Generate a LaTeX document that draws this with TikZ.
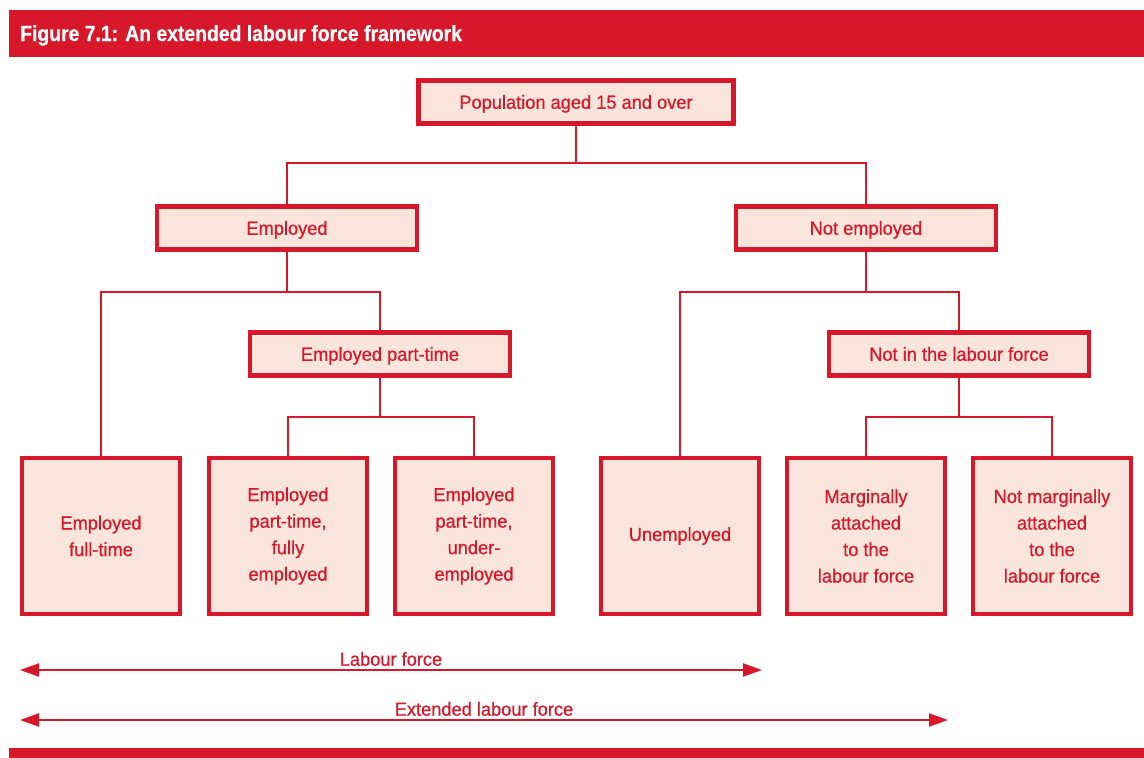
\documentclass[tikz,border=0pt]{standalone}
\usepackage{fontspec}
\setmainfont{Liberation Sans}[FakeStretch=0.96,FakeBold=0.6]
\newfontfamily\headfont{Liberation Sans}[FakeStretch=0.88,FakeBold=0.5]
\usepackage{tikz}
\usetikzlibrary{arrows.meta}

\definecolor{figred}{HTML}{D7182A}
\definecolor{boxfill}{HTML}{FAE5DD}

\tikzset{
  box/.style={draw=figred, line width=4.5pt, fill=boxfill, text=figred,
    align=center, inner sep=2pt, font=\fontsize{19}{26.5}\selectfont},
  widebox/.style={box, minimum width=260pt, minimum height=43pt,
    text height=13.6pt, text depth=0pt},
  leafbox/.style={box, minimum width=158pt, minimum height=156pt},
  link/.style={draw=figred, line width=2pt},
  span/.style={draw=figred, line width=2.2pt,
    {Triangle[length=19pt,width=13pt]}-{Triangle[length=19pt,width=13pt]}},
  spanlabel/.style={text=figred, font=\fontsize{19}{22}\selectfont, inner sep=3pt}
}

\begin{document}
\begin{tikzpicture}[x=1pt,y=1pt]
  \useasboundingbox (0,0) rectangle (1144,-758);

  % title bar and bottom rule
  \fill[figred] (9,-10) rectangle (1144,-57);
  \node[anchor=base west, text=white, inner sep=0pt,
    font=\headfont\bfseries\fontsize{22}{26}\selectfont] (title) at (20,-41)
    {Figure 7.1: An extended labour force framework};
  \fill[figred] (9,-748) rectangle (1144,-758);

  % tree of boxes
  \node[widebox, minimum width=315pt] (pop) at (576,-102) {Population aged 15 and over};
  \node[widebox] (emp) at (287,-228) {Employed};
  \node[widebox] (notemp) at (866,-228) {Not employed};
  \node[widebox] (pt) at (380,-354) {Employed part-time};
  \node[widebox] (nilf) at (959,-354) {Not in the labour force};

  \node[leafbox] (ft) at (101,-536) {Employed\\full-time};
  \node[leafbox] (ptfull) at (288,-536) {Employed\\part-time,\\fully\\employed};
  \node[leafbox] (ptunder) at (474,-536) {Employed\\part-time,\\under-\\employed};
  \node[leafbox] (unemp) at (680,-536) {Unemployed};
  \node[leafbox] (marg) at (866,-536) {Marginally\\attached\\to the\\labour force};
  \node[leafbox] (notmarg) at (1052,-536) {Not marginally\\attached\\to the\\labour force};

  % connectors
  \draw[link] (pop.south) -- ++(0,-37) coordinate (j1);
  \draw[link] (emp.north) |- (j1) -| (notemp.north);
  \draw[link] (emp.south) -- ++(0,-40) coordinate (j2);
  \draw[link] (ft.north) |- (j2) -| (pt.north);
  \draw[link] (pt.south) -- ++(0,-39) coordinate (j3);
  \draw[link] (ptfull.north) |- (j3) -| (ptunder.north);
  \draw[link] (notemp.south) -- ++(0,-40) coordinate (j4);
  \draw[link] (unemp.north) |- (j4) -| (nilf.north);
  \draw[link] (nilf.south) -- ++(0,-39) coordinate (j5);
  \draw[link] (marg.north) |- (j5) -| (notmarg.north);

  % labour force spans
  \coordinate (lfL) at (20,-670);
  \coordinate (lfR) at (762,-670);
  \coordinate (elfL) at (20,-720);
  \coordinate (elfR) at (948,-720);
  \draw[span] (lfL) -- (lfR) node[midway, above, spanlabel] {Labour force};
  \draw[span] (elfL) -- (elfR) node[midway, above, spanlabel] {Extended labour force};
\end{tikzpicture}
\end{document}
